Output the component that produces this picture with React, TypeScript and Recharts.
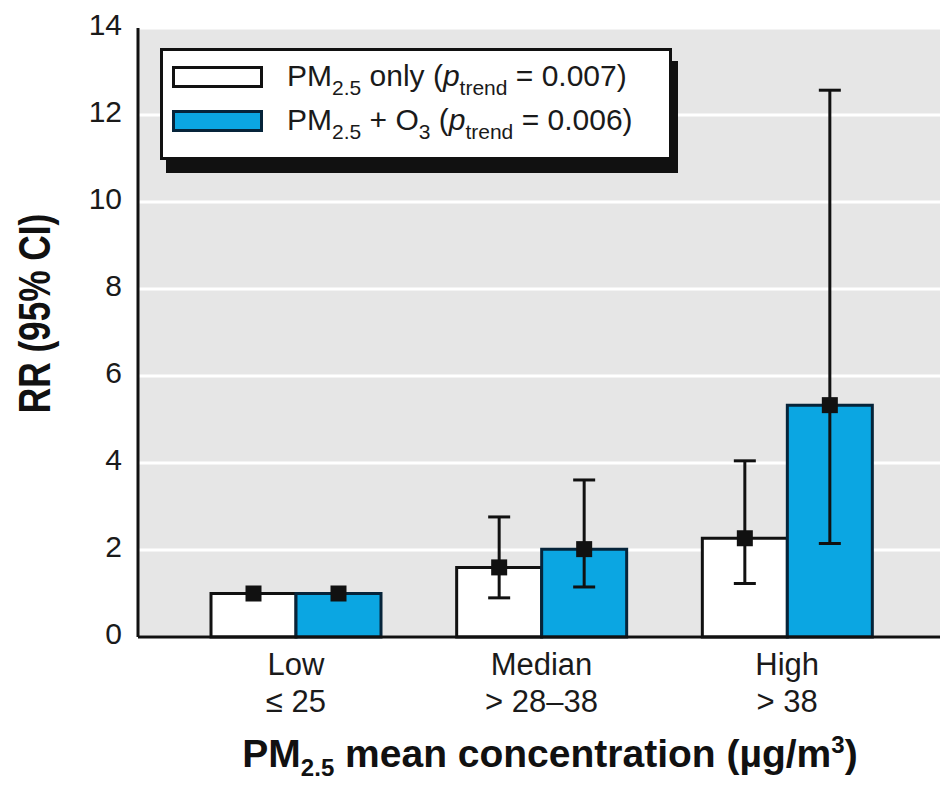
import React from 'react';
import { ComposedChart, Bar, XAxis, YAxis, CartesianGrid, ErrorBar, LabelList, Legend } from 'recharts';

const categories = ['Low', 'Median', 'High'];
const rangeLabels = ['\u2264 25', '> 28\u201338', '> 38'];

const pmOnly = [1.0, 1.6, 2.27];
const pmOnlyLower = [null, 0.9, 1.23];
const pmOnlyUpper = [null, 2.76, 4.05];

const pmO3 = [1.0, 2.02, 5.33];
const pmO3Lower = [null, 1.15, 2.15];
const pmO3Upper = [null, 3.61, 12.57];

const yTicks = [0, 2, 4, 6, 8, 10, 12, 14];

const seriesNames = ['PM2.5 only', 'PM2.5 + O3'];
const seriesFills = ['#ffffff', '#0ba6e2'];
const seriesStrokes = ['#111111', '#06243a'];

const legendParts: [string, string][][] = [
  [['PM', ''], ['2.5', 'sub'], [' only (', ''], ['p', 'it'], ['trend', 'sub'], [' = 0.007)', '']],
  [['PM', ''], ['2.5', 'sub'], [' + O', ''], ['3', 'sub'], [' (', ''], ['p', 'it'], ['trend', 'sub'], [' = 0.006)', '']],
];

const FONT = '"Liberation Sans", Arial, Helvetica, sans-serif';

const errPair = (v: number, lo: number | null, hi: number | null) =>
  lo == null || hi == null ? null : [v - lo, hi - v];

const data = categories.map((c, i) => ({
  category: c,
  pmOnly: pmOnly[i],
  pmOnlyErr: errPair(pmOnly[i], pmOnlyLower[i], pmOnlyUpper[i]),
  pmO3: pmO3[i],
  pmO3Err: errPair(pmO3[i], pmO3Lower[i], pmO3Upper[i]),
}));

const XTick = (props: any) => {
  const { x, y, payload, index } = props;
  return (
    <g transform={`translate(${x},${y})`}>
      <text textAnchor="middle" y={30} fontSize={31} fill="#1a1a1a" fontFamily={FONT}>
        {payload.value}
      </text>
      <text textAnchor="middle" y={67} fontSize={31} fill="#1a1a1a" fontFamily={FONT}>
        {rangeLabels[index]}
      </text>
    </g>
  );
};

const YTick = (props: any) => {
  const { x, y, payload } = props;
  return (
    <text x={x} y={y + 7} textAnchor="end" fontSize={30} fill="#1a1a1a" fontFamily={FONT}>
      {payload.value}
    </text>
  );
};

const YTitle = (props: any) => {
  const { viewBox } = props;
  const cx = viewBox.x + 35;
  const cy = viewBox.y + viewBox.height / 2 - 19;
  return (
    <g transform={`translate(${cx},${cy}) rotate(-90) scale(0.8,1)`}>
      <text textAnchor="middle" dominantBaseline="central" fontSize={44} fontWeight="bold" fill="#111" fontFamily={FONT}>
        RR (95% CI)
      </text>
    </g>
  );
};

const XTitle = (props: any) => {
  const { viewBox } = props;
  const cx = viewBox.x + viewBox.width / 2 + 11;
  const y = viewBox.y + 130;
  return (
    <text x={cx} y={y} textAnchor="middle" fontSize={39} fontWeight="bold" fill="#111" fontFamily={FONT}>
      PM
      <tspan fontSize={24} dy={9}>2.5</tspan>
      <tspan dy={-9}> mean concentration (µg/m</tspan>
      <tspan fontSize={24} dy={-14}>3</tspan>
      <tspan dy={14}>)</tspan>
    </text>
  );
};

const Marker = (props: any) => {
  const { x, y, width, value } = props;
  if (value == null) return null;
  const cx = Number(x) + Number(width) / 2;
  return <rect x={cx - 8} y={Number(y) - 8} width={16} height={16} fill="#111" />;
};

const LegendBox = (props: any) => {
  const payload = props.payload || [];
  return (
    <div
      style={{
        position: 'relative',
        width: 512,
        height: 112,
        boxSizing: 'border-box',
        border: '3px solid #111',
        boxShadow: '6px 13px 0 #111',
        background: '#fff',
        fontFamily: FONT,
      }}
    >
      {payload.map((entry: any, i: number) => (
        <div
          key={i}
          style={{
            position: 'absolute',
            left: 9,
            top: 6 + i * 44,
            height: 40,
            display: 'flex',
            alignItems: 'center',
            whiteSpace: 'nowrap',
          }}
        >
          <div
            style={{
              width: 91,
              height: 22,
              boxSizing: 'border-box',
              border: `3px solid ${seriesStrokes[i]}`,
              background: seriesFills[i],
              marginRight: 24,
            }}
          />
          <span style={{ fontSize: 30, color: '#1a1a1a', lineHeight: '40px' }}>
            {legendParts[i].map(([t, kind], k) =>
              kind === 'sub' ? (
                <span key={k} style={{ fontSize: 21, position: 'relative', top: 9 }}>{t}</span>
              ) : kind === 'it' ? (
                <span key={k} style={{ fontStyle: 'italic' }}>{t}</span>
              ) : (
                <span key={k}>{t}</span>
              )
            )}
          </span>
        </div>
      ))}
    </div>
  );
};

export default function App() {
  return (
    <div style={{ position: 'absolute', left: 0, top: 0, width: 940, height: 785, background: '#fff' }}>
      <ComposedChart
        width={940}
        height={785}
        data={data}
        margin={{ top: 28, right: 0, bottom: 0, left: 0 }}
        barGap={0}
      >
        <CartesianGrid vertical={false} fill="#e6e6e6" stroke="#ffffff" strokeWidth={3} />
        <XAxis
          dataKey="category"
          height={148}
          padding={{ left: 35, right: 30 }}
          axisLine={{ stroke: '#111', strokeWidth: 3 }}
          tickLine={false}
          interval={0}
          tick={<XTick />}
          label={{ content: XTitle }}
        />
        <YAxis
          width={138}
          domain={[0, 14]}
          ticks={yTicks}
          interval={0}
          axisLine={{ stroke: '#111', strokeWidth: 3 }}
          tickLine={false}
          tickMargin={10}
          tick={<YTick />}
          label={{ content: YTitle }}
        />
        <Legend
          layout="horizontal"
          verticalAlign="middle"
          align="center"
          content={LegendBox}
          wrapperStyle={{ left: 160, top: 48, width: 512, height: 112 }}
        />
        <Bar
          dataKey="pmOnly"
          name={seriesNames[0]}
          fill={seriesFills[0]}
          stroke={seriesStrokes[0]}
          strokeWidth={3}
          barSize={85}
          isAnimationActive={false}
        >
          <ErrorBar dataKey="pmOnlyErr" direction="y" width={11} stroke="#111" strokeWidth={3} />
          <LabelList dataKey="pmOnly" content={Marker} />
        </Bar>
        <Bar
          dataKey="pmO3"
          name={seriesNames[1]}
          fill={seriesFills[1]}
          stroke={seriesStrokes[1]}
          strokeWidth={3}
          barSize={85}
          isAnimationActive={false}
        >
          <ErrorBar dataKey="pmO3Err" direction="y" width={11} stroke="#111" strokeWidth={3} />
          <LabelList dataKey="pmO3" content={Marker} />
        </Bar>
      </ComposedChart>
    </div>
  );
}
